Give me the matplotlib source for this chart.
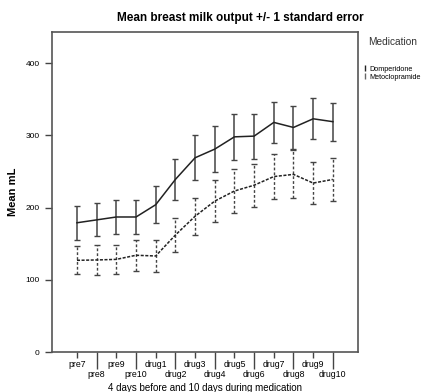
import matplotlib
matplotlib.use("Agg")
import matplotlib.pyplot as plt
from matplotlib.lines import Line2D
import numpy as np

plt.rcParams["font.family"] = ["Liberation Sans", "DejaVu Sans"]

days = ["pre7", "pre8", "pre9", "pre10", "drug1", "drug2", "drug3",
        "drug4", "drug5", "drug6", "drug7", "drug8", "drug9", "drug10"]
dom_mean = [179, 183, 187, 187, 204, 239, 269, 281, 298, 299, 318, 311, 323, 319]
dom_se = [23.7, 22.7, 23.5, 23.5, 26, 28, 31.4, 31.6, 32, 31.2, 28.7, 30, 28.5, 26.3]
met_mean = [127, 127.5, 128.3, 134, 133, 162, 188, 209, 223, 231, 243, 246, 234, 239]
met_se = [19.5, 20.5, 19.8, 21.7, 22.2, 23, 25.6, 29, 30, 30, 31.3, 33.2, 29, 30.2]
yticks = [0, 100, 200, 300, 400]

x = np.arange(len(days))

fig = plt.figure(figsize=(4.26, 3.92), dpi=100)
ax = fig.add_axes([0.122, 0.102, 0.718, 0.816])

eb1 = ax.errorbar(x, dom_mean, yerr=dom_se, color="#222222", lw=1.1,
                  elinewidth=1.1, capsize=2.5, capthick=1.0, ecolor="#444444")
eb2 = ax.errorbar(x, met_mean, yerr=met_se, color="#222222", lw=1.1, ls=(0, (2, 1)),
                  elinewidth=1.0, capsize=2.5, capthick=1.0, ecolor="#444444")
eb2[2][0].set_linestyle((0, (2, 1.5)))

ax.set_xlim(-1.27, 14.27)
ax.set_ylim(0, 443)
ax.set_yticks(yticks)
ax.set_yticklabels([str(v) for v in yticks], fontsize=6)
ax.tick_params(axis="y", length=5, width=1, color="#444444", pad=4)

ax.set_xticks(x[::2])
ax.set_xticklabels(days[::2], fontsize=6.3)
ax.set_xticks(x[1::2], minor=True)
ax.set_xticklabels(days[1::2], minor=True, fontsize=6.3)
ax.tick_params(axis="x", which="major", length=4, width=1, color="#444444", pad=1.5)
ax.tick_params(axis="x", which="minor", length=12, width=1, color="#444444", pad=1)

for s in ax.spines.values():
    s.set_color("#555555")
    s.set_linewidth(1.2)

ax.set_ylabel("Mean mL", fontsize=8, fontweight="bold", labelpad=5)
ax.set_xlabel("4 days before and 10 days during medication", fontsize=7, labelpad=3)
fig.text(0.563, 0.954, "Mean breast milk output +/- 1 standard error", fontsize=8.5,
         fontweight="bold", ha="center", va="center")

fig.text(0.864, 0.893, "Medication", fontsize=7.3, color="#333333", va="center")
handles = [
    Line2D([], [], ls="none", marker=r"$\mathrm{I}$", color="#222222", markersize=4),
    Line2D([], [], ls="none", marker=r"$\mathrm{I}$", color="#666666", markersize=4),
]
leg = fig.legend(handles, ["Domperidone", "Metoclopramide"],
                 loc="upper left", bbox_to_anchor=(0.846, 0.842), frameon=False,
                 fontsize=5.2, handlelength=0.4, handletextpad=0.3,
                 labelspacing=0.15, borderpad=0)

fig.savefig("out.png", dpi=100)
